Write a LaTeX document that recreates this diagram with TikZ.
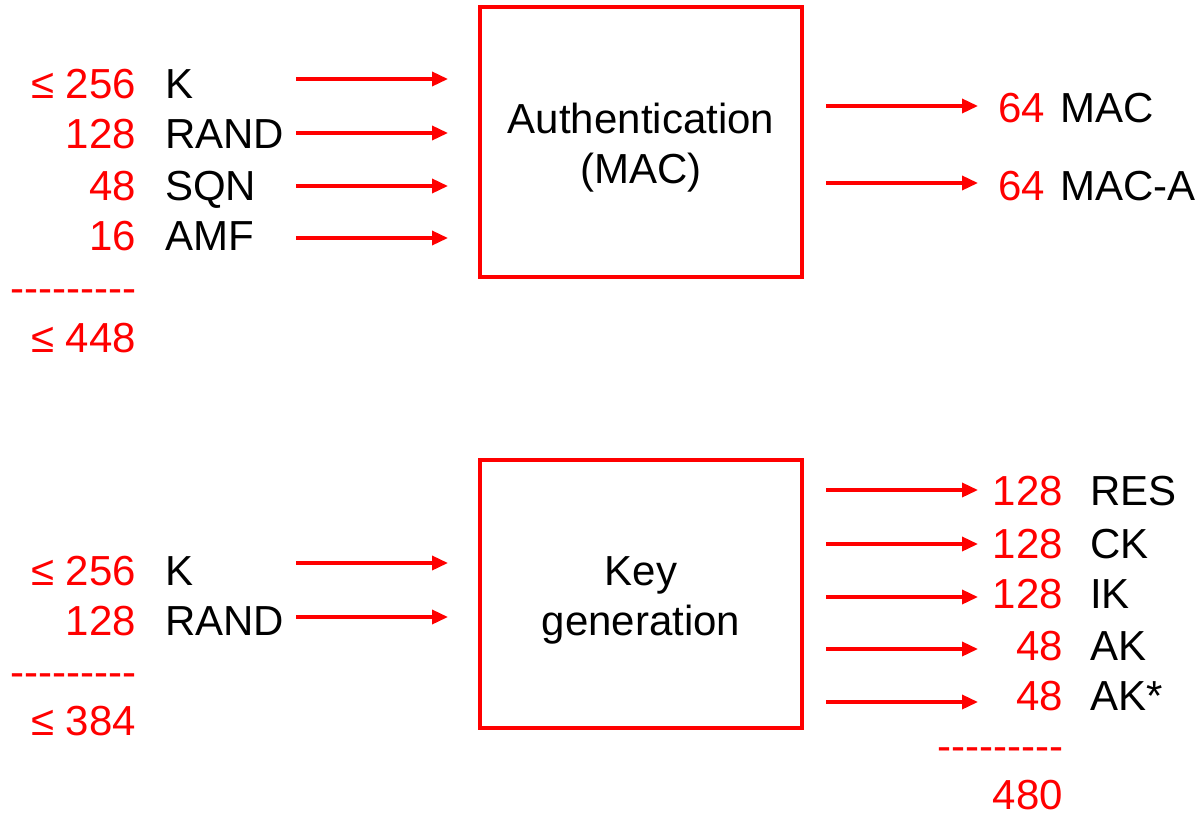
\documentclass[tikz,border=0pt]{standalone}
\usepackage{fontspec}
\setmainfont{Liberation Sans}
\usetikzlibrary{arrows.meta}
\newcommand{\dashrow}{-{}-{}-{}-{}-{}-{}-{}-{}-}
\begin{document}
\begin{tikzpicture}[x=1pt,y=-1pt,
  num/.style={text=red,font=\fontsize{42}{50}\selectfont,inner sep=0pt,anchor=base east},
  lab/.style={text=black,font=\fontsize{42}{50}\selectfont,inner sep=0pt,anchor=base west},
  ctr/.style={text=black,font=\fontsize{42}{50}\selectfont,inner sep=0pt,anchor=base},
  arr/.style={draw=red,line width=3.5pt,-{Triangle[length=16pt,width=14pt]}},
  blk/.style={draw=red,line width=3.5pt,inner sep=0pt}]
\useasboundingbox (0,0) rectangle (1201,816);
% ---------- top block ----------
\node[blk,minimum width=322pt,minimum height=270pt] (auth) at (641,142) {};
\node[ctr] (authA) at (641,133) {Authentication};
\node[ctr] (authB) at (641,183) {(MAC)};
\node[num] (n1) at (136,98) {≤ 256};  \node[lab] (l1) at (165,98) {K};
\node[num] (n2) at (136,148) {128};   \node[lab] (l2) at (165,148) {RAND};
\node[num] (n3) at (136,200) {48};    \node[lab] (l3) at (165,200) {SQN};
\node[num] (n4) at (136,250) {16};    \node[lab] (l4) at (165,250) {AMF};
\node[num] (d1) at (137,302) {\dashrow};
\node[num] (s1) at (136,352) {≤ 448};
\coordinate (a1s) at (296,79);  \coordinate (a1e) at (448,79);
\coordinate (a2s) at (296,133); \coordinate (a2e) at (448,133);
\coordinate (a3s) at (296,186); \coordinate (a3e) at (448,186);
\coordinate (a4s) at (296,238); \coordinate (a4e) at (448,238);
\draw[arr] (a1s) -- (a1e);
\draw[arr] (a2s) -- (a2e);
\draw[arr] (a3s) -- (a3e);
\draw[arr] (a4s) -- (a4e);
\coordinate (o1s) at (826,106); \coordinate (o1e) at (978,106);
\coordinate (o2s) at (826,183); \coordinate (o2e) at (978,183);
\draw[arr] (o1s) -- (o1e);
\draw[arr] (o2s) -- (o2e);
\node[num] (m1) at (1045,122) {64}; \node[lab] (ml1) at (1060,122) {MAC};
\node[num] (m2) at (1045,200) {64}; \node[lab] (ml2) at (1060,200) {MAC-A};
% ---------- bottom block ----------
\node[blk,minimum width=322pt,minimum height=268pt] (kg) at (641,594) {};
\node[ctr] (kgA) at (641,585) {Key};
\node[ctr] (kgB) at (641,635) {generation};
\node[num] (n5) at (136,585) {≤ 256}; \node[lab] (l5) at (165,585) {K};
\node[num] (n6) at (136,635) {128};   \node[lab] (l6) at (165,635) {RAND};
\node[num] (d2) at (137,686) {\dashrow};
\node[num] (s2) at (136,735) {≤ 384};
\coordinate (b1s) at (296,563); \coordinate (b1e) at (448,563);
\coordinate (b2s) at (296,617); \coordinate (b2e) at (448,617);
\draw[arr] (b1s) -- (b1e);
\draw[arr] (b2s) -- (b2e);
\coordinate (p1s) at (826,490); \coordinate (p1e) at (978,490);
\coordinate (p2s) at (826,544); \coordinate (p2e) at (978,544);
\coordinate (p3s) at (826,597); \coordinate (p3e) at (978,597);
\coordinate (p4s) at (826,649); \coordinate (p4e) at (978,649);
\coordinate (p5s) at (826,702); \coordinate (p5e) at (978,702);
\draw[arr] (p1s) -- (p1e);
\draw[arr] (p2s) -- (p2e);
\draw[arr] (p3s) -- (p3e);
\draw[arr] (p4s) -- (p4e);
\draw[arr] (p5s) -- (p5e);
\node[num] (r1) at (1063,505) {128}; \node[lab] (rl1) at (1090,505) {RES};
\node[num] (r2) at (1063,558) {128}; \node[lab] (rl2) at (1090,558) {CK};
\node[num] (r3) at (1063,608) {128}; \node[lab] (rl3) at (1090,608) {IK};
\node[num] (r4) at (1063,660) {48};  \node[lab] (rl4) at (1090,660) {AK};
\node[num] (r5) at (1063,710) {48};  \node[lab] (rl5) at (1090,710) {AK*};
\node[num] (d3) at (1064,760) {\dashrow};
\node[num] (s3) at (1063,809) {480};
\end{tikzpicture}
\end{document}
